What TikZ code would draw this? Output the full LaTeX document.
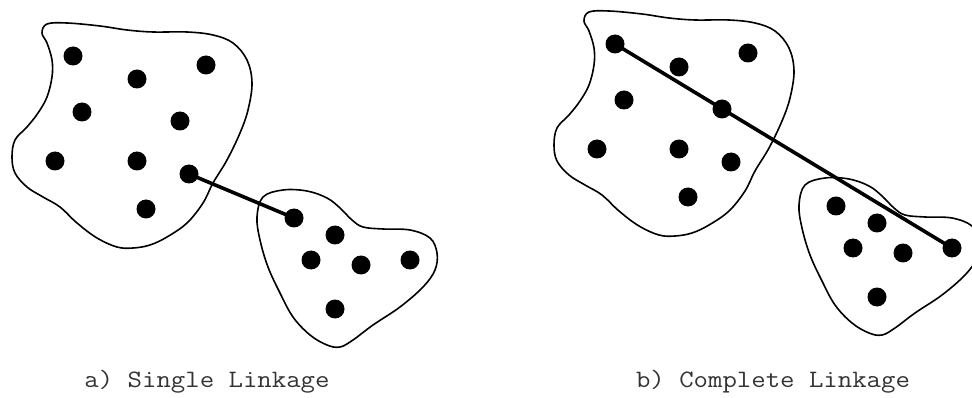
\documentclass[tikz,border=0pt]{standalone}
\usepackage{fontspec}
\newfontfamily\capfont[FakeStretch=1.12]{Latin Modern Mono}
\tikzset{
  dot/.style={circle,fill=black,inner sep=0pt,minimum size=19pt},
  blob/.style={line width=1.6pt,line join=round},
  link/.style={line width=3.6pt,line cap=round},
  caption/.style={font=\capfont\fontsize{25}{28}\selectfont,text=black!80}
}
% both panels share the same two clusters
\newcommand{\twoclusters}{%
\draw[blob] plot[smooth cycle,tension=0.6] coordinates {(47,24) (42,33) (47,43) (52,60) (52,77) (47,97) (38,113) (27,127) (15,140) (12,157) (15,173) (27,187) (43,197) (60,207) (77,223) (97,238) (117,247) (133,248) (150,245) (167,237) (187,223) (203,203) (213,183) (227,160) (240,133) (248,110) (252,83) (247,60) (233,43) (213,35) (187,32) (153,32) (127,30) (100,26) (67,23)};
\draw[blob] plot[smooth cycle,tension=0.6] coordinates {(263,197) (283,190) (307,191) (327,198) (340,208) (352,220) (363,227) (383,229) (410,230) (430,238) (437,253) (435,270) (423,287) (400,307) (373,325) (353,340) (340,347) (327,345) (310,335) (293,317) (280,293) (268,267) (260,240) (257,217)};
\node[dot] (p1) at (73,56) {};
\node[dot] (p2) at (137,79) {};
\node[dot] (p3) at (206,65) {};
\node[dot] (p4) at (82,112) {};
\node[dot] (p5) at (180,121) {};
\node[dot] (p6) at (55,161) {};
\node[dot] (p7) at (137,161) {};
\node[dot] (p8) at (189,174) {};
\node[dot] (p9) at (146,209) {};
\node[dot] (q1) at (294,218) {};
\node[dot] (q2) at (335,235) {};
\node[dot] (q3) at (311,260) {};
\node[dot] (q4) at (361,265) {};
\node[dot] (q5) at (410,260) {};
\node[dot] (q6) at (335,309) {};
}
\begin{document}
\begin{tikzpicture}[x=1pt,y=-1pt]
\useasboundingbox (0,0) rectangle (972,398);
\begin{scope}
\clip (0,0) rectangle (972,398);
% a) single linkage
\begin{scope}[name prefix=a-]
\twoclusters
\draw[link] (p8.center) -- (q1.center);
\end{scope}
% b) complete linkage
\begin{scope}[shift={(542,-12)},name prefix=b-]
\twoclusters
\draw[link] (p1.center) -- (q5.center);
\end{scope}
\end{scope}
\node[caption] (capa) at (207,382) {a) Single Linkage};
\node[caption] (capb) at (773,382) {b) Complete Linkage};
\end{tikzpicture}
\end{document}
